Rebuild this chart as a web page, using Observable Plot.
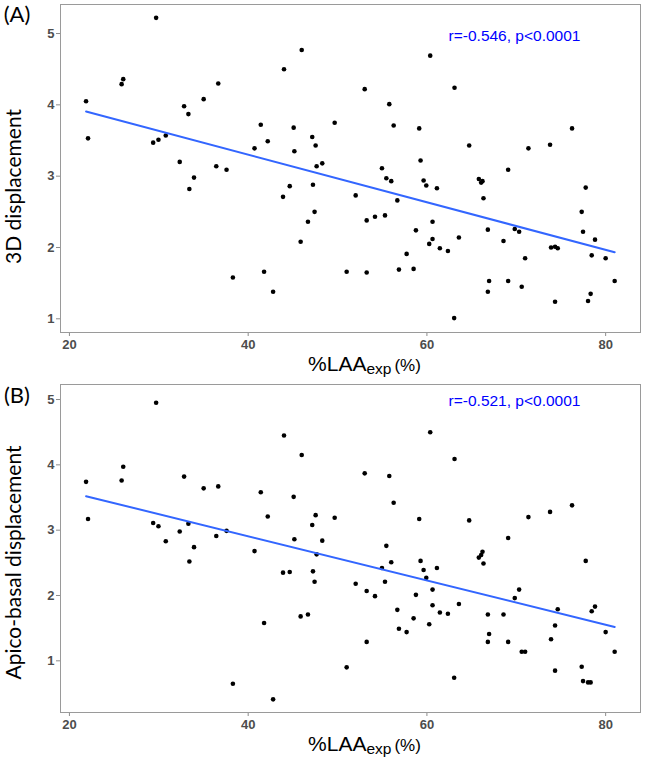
<!DOCTYPE html>
<html><head><meta charset="utf-8">
<script src="https://cdn.jsdelivr.net/npm/d3@7"></script>
<script src="https://cdn.jsdelivr.net/npm/@observablehq/plot@0.6"></script>
<style>
body{margin:0;background:#fff;}
#chart svg{display:block;}
</style></head><body><div id="chart"></div>
<script>
// %LAA_exp (shared x for both panels)
const laaExp = [21.86, 22.08, 25.84, 26.02, 29.70, 29.37, 29.96, 30.78, 32.34, 32.83, 33.31, 33.42, 33.94, 35.02, 36.43, 36.65, 37.58, 38.29, 40.71, 41.41, 41.78, 42.19, 42.79, 43.90, 44.01, 44.65, 45.09, 45.17, 45.87, 45.99, 46.69, 47.17, 47.25, 47.43, 47.55, 47.66, 48.29,
49.68, 52.03, 51.02, 53.04, 53.26, 53.26, 54.19, 54.97, 55.31, 55.46, 55.79, 56.01, 56.28, 56.69, 56.87, 57.73, 58.51, 58.77, 59.14, 59.29, 59.63, 59.93, 60.26, 60.37, 60.63, 60.63, 61.12, 61.45, 62.35, 63.05, 63.09, 63.58, 64.73, 65.81, 66.07, 66.22, 66.33, 66.82, 66.82, 66.96, 68.57, 69.09, 69.09, 69.83, 70.32, 70.61, 70.99, 71.36, 73.78, 73.89, 74.34, 74.34, 74.64, 76.24, 77.32, 77.47, 77.77, 78.03, 78.32, 78.44, 78.81, 80.00, 81.01];
// Panel A: 3D displacement
const displacement3D = [4.05, 3.53, 4.29, 4.36, 5.22, 3.47, 3.51, 3.57, 3.20, 3.98, 3.87, 2.82, 2.98, 4.08, 3.14, 4.30, 3.09, 1.58, 3.39, 3.72, 1.66, 3.49, 1.38, 2.71, 4.50, 2.86, 3.68, 3.35, 2.08, 4.77, 2.36, 3.55, 2.88, 2.50, 3.43, 3.14, 3.18,
3.75, 2.73, 1.66, 4.22, 2.38, 1.65, 2.43, 3.11, 2.45, 2.97, 4.01, 2.93, 3.71, 2.66, 1.69, 1.91, 1.70, 2.24, 3.67, 3.22, 2.94, 2.87, 2.05, 4.69, 2.36, 2.12, 2.83, 1.99, 1.95, 1.01, 4.24, 2.14, 3.43, 2.96, 2.91, 2.93, 2.69, 2.25, 1.38, 1.53, 2.09, 3.09, 1.53, 2.26, 2.22, 1.45, 1.85, 3.39, 3.44, 2.00, 2.01, 1.24, 1.99, 3.67, 2.50, 2.22, 2.84, 1.25, 1.35, 1.89, 2.11, 1.85, 1.53];
// Panel B: apico-basal displacement
const apicoBasal = [3.74, 3.17, 3.76, 3.97, 4.95, 3.11, 3.06, 2.83, 2.98, 3.82, 3.10, 2.52, 2.74, 3.64, 2.91, 3.67, 2.99, 0.65, 2.68, 3.58, 1.58, 3.21, 0.41, 2.35, 4.45, 2.36, 3.51, 2.86, 1.68, 4.15, 1.71, 3.08, 2.37, 2.21, 3.23, 2.63, 2.84,
3.19, 2.18, 0.90, 3.87, 2.07, 1.29, 1.99, 2.42, 2.21, 2.76, 3.83, 2.51, 3.42, 1.78, 1.49, 1.44, 1.65, 2.01, 3.17, 2.53, 2.39, 2.27, 1.56, 4.50, 2.09, 1.85, 2.42, 1.74, 1.72, 0.74, 4.09, 1.87, 3.15, 2.58, 2.62, 2.67, 2.49, 1.71, 1.29, 1.41, 1.71, 2.88, 1.29, 1.96, 2.09, 1.14, 1.14, 3.20, 3.28, 1.33, 0.85, 1.54, 1.79, 3.38, 0.91, 0.69, 2.53, 0.67, 0.67, 1.76, 1.83, 1.44, 1.14];

const xTicks = [20, 40, 60, 80];
const yTicks = [1, 2, 3, 4, 5];
const panelLabels = ["(A)", "(B)"];
const yTitles = ["3D displacement", "Apico-basal displacement"];
const statLabels = ["r=-0.546, p<0.0001", "r=-0.521, p<0.0001"];

const panels = [
  {ys: displacement3D, height: 380, yDomain: [0.808, 5.407], statDy: 32, labelY: 21.5, titleY: 186.5},
  {ys: apicoBasal, height: 384, yDomain: [0.209, 5.23], statDy: 17, labelY: 23, titleY: 182.5}
];

const chart = document.getElementById("chart");
panels.forEach((p, i) => {
  const data = laaExp.map((x, k) => ({x, y: p.ys[k]}));
  const svg = Plot.plot({
    width: 645, height: p.height,
    marginTop: 4, marginBottom: p.height - 332, marginLeft: 60, marginRight: 5,
    x: {domain: [19.0, 83.9]},
    y: {domain: p.yDomain},
    style: {fontFamily: "'Liberation Sans', Arial, sans-serif", background: "#fff", overflow: "visible"},
    marks: [
      Plot.axisX({ticks: xTicks, tickFormat: d => String(d), tickSize: 4, tickPadding: 3, stroke: "#8c8c8c", fill: "#4d4d4d", fontWeight: "bold", fontSize: 13, label: null}),
      Plot.axisY({ticks: yTicks, tickFormat: d => String(d), tickSize: 4, tickPadding: 2, stroke: "#8c8c8c", fill: "#4d4d4d", fontWeight: "bold", fontSize: 13, label: null}),
      Plot.frame({stroke: "#9a9a9a"}),
      Plot.dot(data, {x: "x", y: "y", r: 2.3, fill: "black"}),
      Plot.linearRegressionY(data, {x: "x", y: "y", stroke: "#3366ff", strokeWidth: 2, ci: 0}),
      Plot.text([statLabels[i]], {text: d => d, frameAnchor: "top-left", textAnchor: "middle", lineAnchor: "middle", dx: 454, dy: p.statDy, fill: "blue", fontSize: 15.5})
    ]
  });
  const s = d3.select(svg);
  // panel tag
  s.append("text").attr("x", 17).attr("y", p.labelY).attr("text-anchor", "middle")
    .attr("font-family", "Lato, 'Open Sans', sans-serif").attr("font-size", 22).attr("fill", "#000")
    .text(panelLabels[i]);
  // y title
  s.append("text").attr("transform", `translate(21,${p.titleY}) rotate(-90)`).attr("text-anchor", "middle")
    .attr("font-family", "Lato, 'Open Sans', sans-serif").attr("font-size", 21).attr("fill", "#000")
    .text(yTitles[i]);
  // x title with subscript
  const xt = s.append("text").attr("x", 364.5).attr("y", 370.7).attr("text-anchor", "middle")
    .attr("font-family", "'Liberation Sans', Arial, sans-serif").attr("fill", "#000");
  xt.append("tspan").attr("font-size", 21).text("%LAA");
  xt.append("tspan").attr("font-size", 15.5).attr("dy", 3.5).text("exp");
  xt.append("tspan").attr("font-size", 17).attr("dy", -3.5).attr("dx", 3).text("(%)");
  chart.appendChild(svg);
});
</script></body></html>
